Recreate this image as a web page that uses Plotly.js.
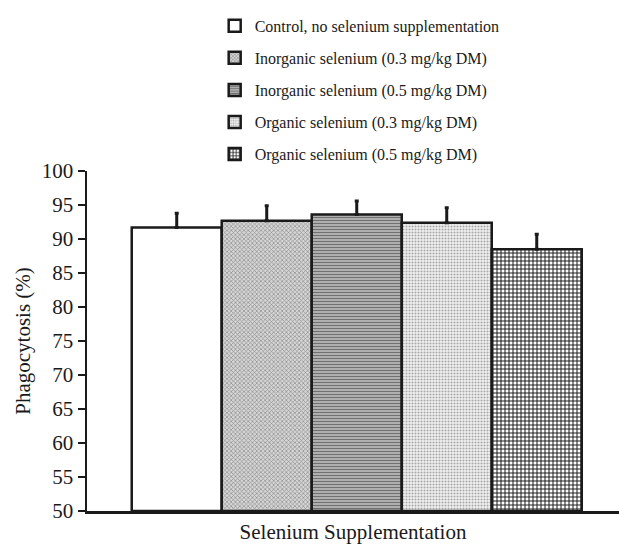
<!DOCTYPE html>
<html>
<head>
<meta charset="utf-8">
<script src="https://cdn.plot.ly/plotly-3.0.1.min.js"></script>
<style>html,body{margin:0;padding:0;background:#fff;}#chart{width:619px;height:544px;}</style>
</head>
<body>
<div id="chart"></div>
<script>
const categories = [
  "Control, no selenium supplementation",
  "Inorganic selenium (0.3 mg/kg DM)",
  "Inorganic selenium (0.5 mg/kg DM)",
  "Organic selenium (0.3 mg/kg DM)",
  "Organic selenium (0.5 mg/kg DM)"
];
const values = [91.7, 92.7, 93.6, 92.4, 88.5];
const errors = [2.1, 2.2, 2.0, 2.2, 2.2];
const yTicks = [50, 55, 60, 65, 70, 75, 80, 85, 90, 95, 100];

const patterns = [
  {shape: "", bg: "#ffffff", fg: "#ffffff", size: 4, solidity: 0.3},
  {shape: "x", bg: "#d6d6d6", fg: "#8a8a8a", size: 3, solidity: 0.4},
  {shape: "-", bg: "#c4c4c4", fg: "#707070", size: 3, solidity: 0.5},
  {shape: ".", bg: "#f2f2f2", fg: "#a8a8a8", size: 3, solidity: 0.4},
  {shape: "+", bg: "#ffffff", fg: "#222222", size: 4, solidity: 0.45}
];

const SERIF = "Liberation Serif";

const traces = categories.map((name, i) => ({
  type: "bar",
  name: name,
  legendgroup: "g" + i,
  x: [i],
  y: [values[i] - 50],
  width: 1,
  marker: {
    color: patterns[i].bg,
    line: {color: "#1a1a1a", width: 2.5},
    pattern: {
      shape: patterns[i].shape,
      fgcolor: patterns[i].fg,
      bgcolor: patterns[i].bg,
      size: patterns[i].size,
      solidity: patterns[i].solidity,
      fillmode: "replace"
    }
  },
  error_y: {
    type: "data",
    symmetric: false,
    array: [errors[i]],
    arrayminus: [0],
    color: "#1a1a1a",
    thickness: 3,
    width: 2
  },
  hoverinfo: "none"
}));

const layout = {
  width: 619,
  height: 544,
  margin: {l: 87, r: 0, t: 171, b: 33},
  paper_bgcolor: "#ffffff",
  plot_bgcolor: "#ffffff",
  barmode: "overlay",
  font: {family: SERIF, color: "#1a1a1a"},
  showlegend: true,
  legend: {
    x: 0.24, y: 1.477, xanchor: "left", yanchor: "top",
    font: {size: 16, family: SERIF, color: "#1a1a1a"},
    tracegroupgap: 8.3,
    bgcolor: "rgba(0,0,0,0)"
  },
  xaxis: {
    range: [-0.997, 4.914],
    showticklabels: false,
    ticks: "",
    showgrid: false,
    zeroline: false,
    showline: true,
    linecolor: "#1a1a1a",
    linewidth: 2.5,
    automargin: false,
    title: {text: "Selenium Supplementation", font: {size: 21, family: SERIF}, standoff: 12},
    fixedrange: true
  },
  yaxis: {
    range: [0, 50],
    tickvals: yTicks.map(v => v - 50),
    ticktext: yTicks.map(String),
    ticks: "outside",
    ticklen: 7,
    tickwidth: 2,
    tickcolor: "#1a1a1a",
    tickfont: {size: 21, family: SERIF},
    showgrid: false,
    zeroline: false,
    showline: true,
    linecolor: "#1a1a1a",
    linewidth: 2.5,
    automargin: false,
    title: {text: "Phagocytosis (%)", font: {size: 21, family: SERIF}, standoff: 6},
    fixedrange: true
  }
};

Plotly.newPlot("chart", traces, layout, {displayModeBar: false, staticPlot: true});
</script>
</body>
</html>
